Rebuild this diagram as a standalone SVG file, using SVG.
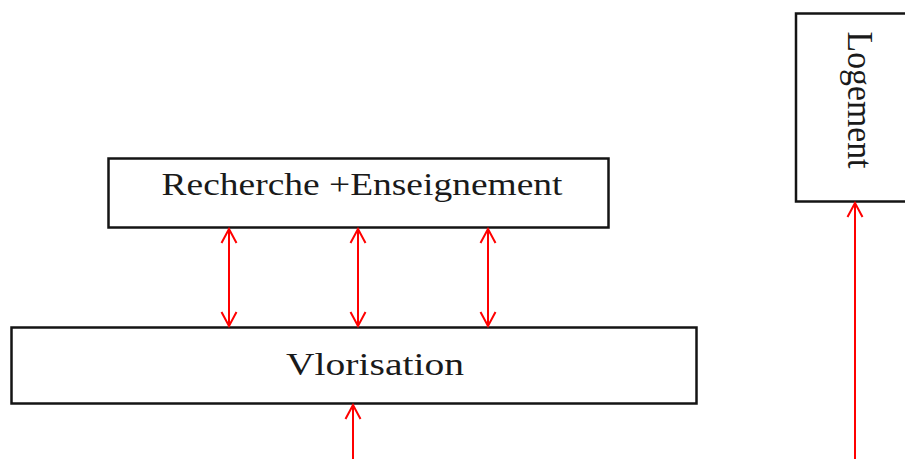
<svg xmlns="http://www.w3.org/2000/svg" width="905" height="459" viewBox="0 0 905 459">
  <style>
    .box { fill: #ffffff; stroke: #141414; stroke-width: 2.5; }
    .label { font-family: "Liberation Serif", "DejaVu Serif", serif; fill: #1a1a1a; }
    .link { stroke: #ff0000; stroke-width: 2; fill: none; }
  </style>
  <defs>
    <!-- open V arrowhead, tip at the origin, pointing along +x -->
    <marker id="head" markerUnits="userSpaceOnUse" markerWidth="20" markerHeight="20" viewBox="-18 -10 20 20" refX="0" refY="0" orient="auto-start-reverse">
      <path d="M-14,-7.5 L0,0 L-14,7.5" fill="none" stroke="#ff0000" stroke-width="2"/>
    </marker>
  </defs>
  <rect width="905" height="459" fill="#ffffff"/>

  <g id="recherche">
    <rect class="box" x="108.5" y="158.5" width="500" height="69"/>
    <text class="label" x="362" y="195" font-size="31" text-anchor="middle" textLength="401" lengthAdjust="spacingAndGlyphs">Recherche +Enseignement</text>
  </g>

  <g id="valorisation">
    <rect class="box" x="11.5" y="327.5" width="685" height="76"/>
    <text class="label" x="375" y="375" font-size="32" text-anchor="middle" textLength="178" lengthAdjust="spacingAndGlyphs">Vlorisation</text>
  </g>

  <g id="logement">
    <rect class="box" x="796" y="13.5" width="130" height="188"/>
    <text class="label" transform="translate(848,100) rotate(90)" font-size="35" text-anchor="middle" textLength="137" lengthAdjust="spacingAndGlyphs">Logement</text>
  </g>

  <g id="connectors">
    <line class="link" x1="229" y1="229" x2="229" y2="326" marker-start="url(#head)" marker-end="url(#head)"/>
    <line class="link" x1="358" y1="229" x2="358" y2="326" marker-start="url(#head)" marker-end="url(#head)"/>
    <line class="link" x1="488" y1="229" x2="488" y2="326" marker-start="url(#head)" marker-end="url(#head)"/>
    <line class="link" x1="353" y1="459" x2="353" y2="405" marker-end="url(#head)"/>
    <line class="link" x1="855" y1="459" x2="855" y2="203" marker-end="url(#head)"/>
  </g>
</svg>
